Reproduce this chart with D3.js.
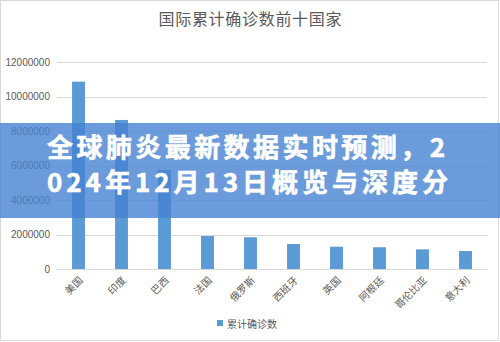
<!DOCTYPE html>
<html>
<head>
<meta charset="utf-8">
<script src="https://cdn.jsdelivr.net/npm/d3@7"></script>
<style>
  body { margin: 0; background: #fff; }
  svg { display: block; font-family: "Noto Sans CJK SC", "Noto Sans", sans-serif; }
</style>
</head>
<body>
<div id="chart"></div>
<script>
var countries = ["美国", "印度", "巴西", "法国", "俄罗斯", "西班牙", "英国", "阿根廷", "哥伦比亚", "意大利"];
var cases = [10860000, 8640000, 5740000, 1910000, 1840000, 1450000, 1290000, 1260000, 1140000, 1040000];
var yTicks = [0, 2000000, 4000000, 6000000, 8000000, 10000000, 12000000];
var chartTitle = "国际累计确诊数前十国家";
var seriesName = "累计确诊数";
var bannerLines = ["全球肺炎最新数据实时预测，2", "024年12月13日概览与深度分"];

var width = 500, height = 342;
var margin = {top: 62, right: 13, bottom: 73, left: 57};

var svg = d3.select("#chart").append("svg")
    .attr("width", width)
    .attr("height", height);

// outer frame
svg.append("rect")
    .attr("x", 0.5).attr("y", 0.5)
    .attr("width", 498).attr("height", 340)
    .attr("fill", "#fff")
    .attr("stroke", "#d9d9d9");

svg.append("text")
    .attr("x", 250)
    .attr("y", 25)
    .attr("text-anchor", "middle")
    .attr("font-size", 16)
    .attr("fill", "#595959")
    .attr("textLength", 183)
    .text(chartTitle);

var x = d3.scaleBand().domain(countries)
    .range([margin.left, width - margin.right])
    .paddingInner(0.7).paddingOuter(0.35);
var y = d3.scaleLinear().domain([0, 12000000])
    .range([269, margin.top]);

// gridlines
svg.append("g").selectAll("line")
    .data(yTicks)
    .enter()
    .append("line")
        .attr("x1", margin.left)
        .attr("x2", width - margin.right)
        .attr("y1", function(d) { return Math.round(y(d)) + 0.5; })
        .attr("y2", function(d) { return Math.round(y(d)) + 0.5; })
        .attr("stroke", "#d9d9d9");

var yAxis = svg.append("g")
    .attr("transform", "translate(" + (margin.left - 4) + ",0)")
    .call(d3.axisLeft(y).tickValues(yTicks).tickSize(0).tickFormat(d3.format("d")));
yAxis.select(".domain").remove();
yAxis.selectAll("text")
    .attr("fill", "#595959")
    .attr("font-size", 10)
    .attr("font-family", "Liberation Sans, Arial, sans-serif");

svg.append("g").selectAll("rect")
    .data(countries)
    .enter()
    .append("rect")
        .attr("x", function(d) { return x(d); })
        .attr("width", x.bandwidth())
        .attr("y", function(d, i) { return y(cases[i]); })
        .attr("height", function(d, i) { return y(0) - y(cases[i]); })
        .attr("fill", "#5b9bd5");

// rotated category labels
svg.append("g").selectAll("text")
    .data(countries)
    .enter()
    .append("text")
        .attr("transform", function(d) {
            return "translate(" + (x(d) + x.bandwidth() / 2 + 5) + ",281) rotate(-45)";
        })
        .attr("text-anchor", "end")
        .attr("font-size", 10)
        .attr("fill", "#595959")
        .text(function(d) { return d; });

// legend
svg.append("rect")
    .attr("x", 217).attr("y", 320)
    .attr("width", 6).attr("height", 6)
    .attr("fill", "#5b9bd5");
svg.append("text")
    .attr("x", 227).attr("y", 328)
    .attr("font-size", 10)
    .attr("fill", "#595959")
    .text(seriesName);

// overlay banner
svg.append("rect")
    .attr("x", 0).attr("y", 123)
    .attr("width", width).attr("height", 95)
    .attr("fill", "rgb(70,130,210)")
    .attr("opacity", 0.8);

svg.append("g").selectAll("text")
    .data(bannerLines)
    .enter()
    .append("text")
        .attr("x", 47)
        .attr("y", function(d, i) { return 157 + i * 35; })
        .attr("font-size", 26)
        .attr("font-weight", "bold")
        .attr("fill", "#fff")
        .attr("stroke", "#fff")
        .attr("stroke-width", 0.6)
        .attr("textLength", function(d, i) { return i === 0 ? 398 : 401; })
        .attr("lengthAdjust", "spacing")
        .text(function(d) { return d; });
</script>
</body>
</html>
